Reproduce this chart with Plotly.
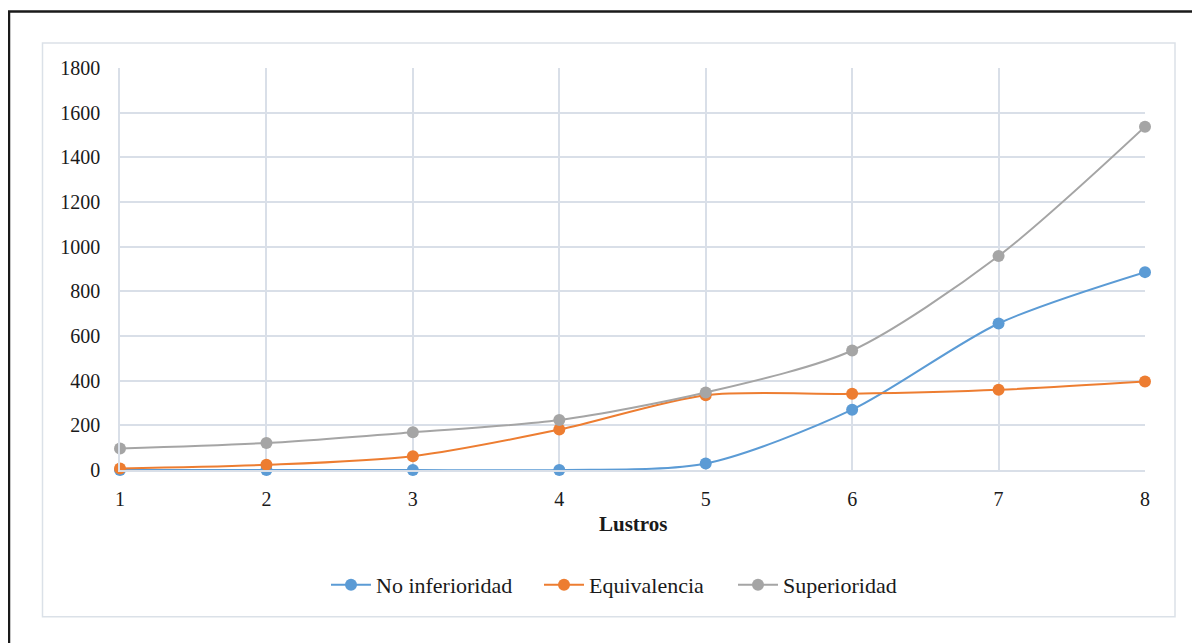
import plotly.graph_objects as go

lustros = [1, 2, 3, 4, 5, 6, 7, 8]
no_inferioridad = [0, 0, 0, 0, 29, 270, 656, 886]
equivalencia = [7, 23, 62, 181, 335, 341, 359, 396]
superioridad = [96, 121, 169, 224, 347, 535, 958, 1537]

series = [
    ("No inferioridad", no_inferioridad, "#5B9BD5"),
    ("Equivalencia", equivalencia, "#ED7D31"),
    ("Superioridad", superioridad, "#A5A5A5"),
]

FONT = "Liberation Serif"
GRID = "#d9dfe8"
TXT = "#1a1a1a"

# page body has an 8px margin; work in figure coordinates
OFF = 8
FW, FH = 1200 - OFF, 643 - OFF
L, R, T, B = 120 - OFF, 1145 - OFF, 67.5 - OFF, 470 - OFF
W, H = R - L, B - T
def px(x):
    return (x - OFF - L) / W
def py(y):
    return (B - (y - OFF)) / H

legend_names = ["legend", "legend2", "legend3"]
legend_left = [329, 542, 736]

fig = go.Figure()
for (name, vals, col), lg in zip(series, legend_names):
    fig.add_trace(go.Scatter(
        x=lustros, y=vals, name=name, mode="lines+markers",
        line=dict(color=col, width=2, shape="spline", smoothing=0.8),
        marker=dict(color=col, size=12),
        cliponaxis=False, legend=lg,
    ))

shapes = [
    dict(type="rect", xref="paper", yref="paper",
         x0=px(9), x1=px(1197), y0=py(660), y1=py(11),
         line=dict(color="#1a1a1a", width=2.5), fillcolor="rgba(0,0,0,0)", layer="below"),
    dict(type="rect", xref="paper", yref="paper",
         x0=px(42.5), x1=px(1175), y0=py(617), y1=py(42.5),
         line=dict(color="#dbe1e8", width=1.5), fillcolor="rgba(0,0,0,0)", layer="below"),
]

legends = {}
for lg, left in zip(legend_names, legend_left):
    legends[lg] = dict(orientation="h", x=px(left - 3), xanchor="left",
                       y=py(585), yanchor="middle",
                       font=dict(family=FONT, size=22, color=TXT),
                       itemwidth=40, bgcolor="rgba(0,0,0,0)", borderwidth=0)

fig.update_layout(
    width=FW, height=FH,
    margin=dict(l=L, r=FW - R, t=T, b=FH - B),
    paper_bgcolor="white", plot_bgcolor="white",
    font=dict(family=FONT, size=20, color=TXT),
    showlegend=True,
    shapes=shapes,
    annotations=[dict(text="<b>Lustros</b>", xref="paper", yref="paper",
                      x=px(633), y=py(524), xanchor="center", yanchor="middle",
                      showarrow=False, font=dict(family=FONT, size=21, color=TXT))],
    **legends,
)

fig.update_xaxes(
    range=[1, 8], tickmode="array", tickvals=lustros, ticktext=[str(v) for v in lustros],
    showgrid=True, gridcolor=GRID, gridwidth=1.5,
    showline=True, linecolor=GRID, linewidth=1.5,
    zeroline=False, ticks="", ticklabelstandoff=10,
    tickfont=dict(family=FONT, size=20, color=TXT),
)
fig.update_yaxes(
    range=[0, 1800], dtick=200, tick0=0,
    showgrid=True, gridcolor=GRID, gridwidth=1.5,
    showline=True, linecolor=GRID, linewidth=1.5,
    zeroline=False, ticks="", ticklabelstandoff=14,
    tickfont=dict(family=FONT, size=20, color=TXT),
)

fig.write_html("out.html")
